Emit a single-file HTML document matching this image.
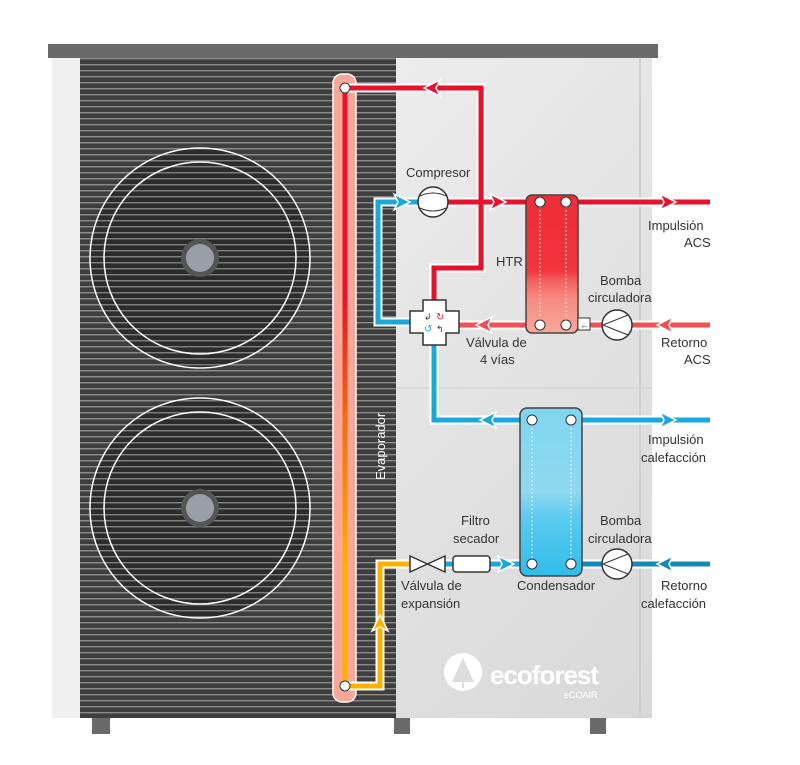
<!DOCTYPE html>
<html><head><meta charset="utf-8"><style>
html,body{margin:0;padding:0;background:#fff;}
svg{display:block;}
text{font-family:"Liberation Sans",sans-serif;font-size:13px;fill:#333;}
</style></head><body>
<svg width="800" height="765" viewBox="0 0 800 765" xmlns="http://www.w3.org/2000/svg">
<defs>
<pattern id="grill" width="6" height="6" patternUnits="userSpaceOnUse">
<rect width="6" height="6" fill="#3e3e3e"/><rect y="4" width="6" height="1.4" fill="#8a8a8a"/>
</pattern>
<pattern id="lines" width="6" height="6" patternUnits="userSpaceOnUse">
<rect y="4" width="6" height="1.4" fill="#8a8a8a" opacity="0.8"/>
</pattern>
<linearGradient id="panel" x1="0" y1="0" x2="1" y2="1">
<stop offset="0" stop-color="#f4f4f4"/><stop offset="1" stop-color="#d8d8d8"/></linearGradient>
<linearGradient id="evap" gradientUnits="userSpaceOnUse" x1="0" y1="88" x2="0" y2="686">
<stop offset="0" stop-color="#e8102a"/><stop offset="0.35" stop-color="#e8102a"/><stop offset="0.55" stop-color="#f56a10"/><stop offset="0.8" stop-color="#ffb000"/><stop offset="1" stop-color="#ffb000"/></linearGradient>
<linearGradient id="htr" x1="0" y1="0" x2="0" y2="1">
<stop offset="0" stop-color="#ee2d37"/><stop offset="0.55" stop-color="#f0353d"/><stop offset="0.62" stop-color="#f4605e"/><stop offset="0.75" stop-color="#f68a80"/><stop offset="1" stop-color="#f8a898"/></linearGradient>
<linearGradient id="cond" x1="0" y1="0" x2="0" y2="1">
<stop offset="0" stop-color="#7fd6f0"/><stop offset="0.5" stop-color="#8ed8f0"/><stop offset="0.65" stop-color="#5ccaf0"/><stop offset="1" stop-color="#2fbdea"/></linearGradient>
</defs>
<!-- body -->
<rect x="48" y="44" width="610" height="14" fill="#6a6a6a"/>
<rect x="52" y="58" width="600" height="660" fill="url(#panel)"/>
<rect x="52" y="58" width="28" height="660" fill="#f0f0f0"/>
<line x1="640" y1="58" x2="640" y2="718" stroke="#c8c8c8" stroke-width="1.5"/>
<line x1="396" y1="388" x2="652" y2="388" stroke="#d0d0d0" stroke-width="1"/>
<rect x="80" y="58" width="316" height="660" fill="url(#grill)"/>
<rect x="92" y="718" width="18" height="16" fill="#6a6a6a"/>
<rect x="394" y="718" width="16" height="16" fill="#6a6a6a"/>
<rect x="590" y="718" width="16" height="16" fill="#6a6a6a"/>
<!-- fans -->
<g>
<circle cx="200" cy="258" r="110" fill="#222" opacity="0.6"/>
<circle cx="200" cy="508" r="110" fill="#222" opacity="0.6"/>
<rect x="80" y="140" width="250" height="480" fill="url(#lines)"/>
<circle cx="200" cy="258" r="110" fill="none" stroke="#fff" stroke-width="1.5"/>
<circle cx="200" cy="258" r="96" fill="none" stroke="#fff" stroke-width="1.5"/>
<circle cx="200" cy="258" r="19" fill="#555"/><circle cx="200" cy="258" r="14" fill="#9a9ea6"/>
<circle cx="200" cy="508" r="110" fill="none" stroke="#fff" stroke-width="1.5"/>
<circle cx="200" cy="508" r="96" fill="none" stroke="#fff" stroke-width="1.5"/>
<circle cx="200" cy="508" r="19" fill="#555"/><circle cx="200" cy="508" r="14" fill="#9a9ea6"/>
</g>
<!-- evaporator -->
<rect x="333" y="74" width="23" height="628" rx="9" fill="#f8a898" stroke="#fff" stroke-width="1.5"/>
<rect x="342.5" y="88" width="5" height="598" fill="url(#evap)"/>
<text transform="translate(385,480) rotate(-90)" style="fill:#fff;font-size:13px">Evaporador</text>
<!-- pipes with white outline -->
<g fill="none" stroke-linejoin="miter">
<g stroke="#fff" stroke-width="9">
<polyline points="345,88 481,88 481,268 434,268 434,300"/>
<polyline points="410,322 378,322 378,202 418,202"/>
<polyline points="448,202 540,202"/>
<polyline points="566,202 710,202"/>
<polyline points="710,325 632,325"/><polyline points="602,325 566,325"/><polyline points="540,325 459,325"/>
<polyline points="434,345 434,420 532,420"/><polyline points="572,420 710,420"/>
<polyline points="345,686 380,686 380,564 410,564"/>
<polyline points="445,564 453,564"/><polyline points="490,564 532,564"/>
<polyline points="572,564 602,564"/><polyline points="632,564 710,564"/>
</g>
<g stroke-width="5">
<polyline stroke="#e8102a" points="345,88 481,88 481,268 434,268 434,300"/>
<polyline stroke="#1aa7dc" points="410,322 378,322 378,202 418,202"/>
<polyline stroke="#e8102a" points="448,202 540,202"/>
<polyline stroke="#e8102a" points="566,202 710,202"/>
<polyline stroke="#f05056" points="710,325 632,325"/><polyline stroke="#f05056" points="602,325 566,325"/><polyline stroke="#f05056" points="540,325 459,325"/>
<polyline stroke="#1aa7dc" points="434,345 434,420 532,420"/><polyline stroke="#1aa7dc" points="572,420 710,420"/>
<polyline stroke="#ffb000" points="345,686 380,686 380,564 410,564"/>
<polyline stroke="#1aa7dc" points="445,564 453,564"/><polyline stroke="#1aa7dc" points="490,564 532,564"/>
<polyline stroke="#1587b8" points="572,564 602,564"/><polyline stroke="#1587b8" points="632,564 710,564"/>
</g>
</g>
<!-- arrows -->
<g stroke="#fff" stroke-width="1.5">
<polygon points="424,88 440,80 436,88 440,96" fill="#e8102a"/>
<polygon points="410,202 394,194 398,202 394,210" fill="#1aa7dc"/>
<polygon points="506,202 490,194 494,202 490,210" fill="#e8102a"/>
<polygon points="676,202 660,194 664,202 660,210" fill="#e8102a"/>
<polygon points="476,325 492,317 488,325 492,333" fill="#f05056"/>
<polygon points="657,325 673,317 669,325 673,333" fill="#f05056"/>
<polygon points="480,420 496,412 492,420 496,428" fill="#1aa7dc"/>
<polygon points="676,420 660,412 664,420 660,428" fill="#1aa7dc"/>
<polygon points="514,564 498,556 502,564 498,572" fill="#1aa7dc"/>
<polygon points="657,564 673,556 669,564 673,572" fill="#1587b8"/>
<polygon points="380,615 372,631 380,627 388,631" fill="#ffb000"/>
</g>
<!-- compressor -->
<circle cx="433" cy="202" r="15" fill="#fff" stroke="#333" stroke-width="1.5"/>
<path d="M420,196 Q433,190 446,196 M420,208 Q433,214 446,208" fill="none" stroke="#333" stroke-width="1"/>
<!-- 4-way valve -->
<path d="M423,300 H446 V311 H459 V333 H446 V345 H423 V333 H410 V311 H423 Z" fill="#fff" stroke="#333" stroke-width="1.5"/>
<text x="424" y="320" style="font-size:9px;fill:#333">↲</text><text x="436" y="320" style="font-size:10px;fill:#e8102a">↻</text>
<text x="424" y="332" style="font-size:10px;fill:#1aa7dc">↺</text><text x="436" y="332" style="font-size:9px;fill:#333">↰</text>
<!-- HTR -->
<rect x="526" y="195" width="52" height="138" rx="6" fill="url(#htr)" stroke="#444" stroke-width="1.5"/>
<line x1="540" y1="202" x2="540" y2="325" stroke="#fff" stroke-dasharray="2 2" stroke-width="0.8"/>
<line x1="566" y1="202" x2="566" y2="325" stroke="#fff" stroke-dasharray="2 2" stroke-width="0.8"/>
<circle cx="540" cy="202" r="5" fill="#fff" stroke="#333"/><circle cx="566" cy="202" r="5" fill="#fff" stroke="#333"/>
<circle cx="540" cy="325" r="5" fill="#fff" stroke="#333"/><circle cx="566" cy="325" r="5" fill="#fff" stroke="#333"/>
<rect x="578" y="318" width="12" height="12" fill="#fff" stroke="#333"/><text x="580" y="328" style="font-size:9px">←</text>
<circle cx="617" cy="325" r="15" fill="#fff" stroke="#333" stroke-width="1.5"/>
<path d="M603,325 L628,315 M603,325 L628,335" stroke="#333" stroke-width="1"/>
<!-- condenser -->
<rect x="520" y="408" width="62" height="168" rx="7" fill="url(#cond)" stroke="#444" stroke-width="1.5"/>
<line x1="532" y1="420" x2="532" y2="564" stroke="#fff" stroke-dasharray="2 2" stroke-width="0.8"/>
<line x1="571" y1="420" x2="571" y2="564" stroke="#fff" stroke-dasharray="2 2" stroke-width="0.8"/>
<circle cx="532" cy="420" r="5" fill="#fff" stroke="#333"/><circle cx="571" cy="420" r="5" fill="#fff" stroke="#333"/>
<circle cx="532" cy="564" r="5" fill="#fff" stroke="#333"/><circle cx="571" cy="564" r="5" fill="#fff" stroke="#333"/>
<circle cx="617" cy="564" r="15" fill="#fff" stroke="#333" stroke-width="1.5"/>
<path d="M603,564 L628,554 M603,564 L628,574" stroke="#333" stroke-width="1"/>
<!-- expansion valve + filter -->
<path d="M410,556 L445,572 L445,556 L410,572 Z" fill="#fff" stroke="#333" stroke-width="1.5"/>
<rect x="453" y="556" width="37" height="16" rx="3" fill="#fff" stroke="#333" stroke-width="1.5"/>
<!-- nodes on evaporator -->
<circle cx="345" cy="88" r="5" fill="#fff" stroke="#333"/>
<circle cx="345" cy="686" r="5" fill="#fff" stroke="#333"/>
<!-- labels -->
<text x="406" y="177">Compresor</text>
<text x="496" y="266">HTR</text>
<text x="600" y="285">Bomba</text><text x="588" y="302">circuladora</text>
<text x="648" y="230">Impulsión</text><text x="684" y="247">ACS</text>
<text x="466" y="347">Válvula de</text><text x="480" y="364">4 vías</text>
<text x="661" y="347">Retorno</text><text x="684" y="364">ACS</text>
<text x="648" y="444">Impulsión</text><text x="641" y="462">calefacción</text>
<text x="461" y="525">Filtro</text><text x="453" y="543">secador</text>
<text x="600" y="525">Bomba</text><text x="588" y="543">circuladora</text>
<text x="401" y="590">Válvula de</text><text x="401" y="608">expansión</text>
<text x="517" y="590">Condensador</text>
<text x="661" y="590">Retorno</text><text x="641" y="608">calefacción</text>
<!-- logo -->
<circle cx="463" cy="672" r="19" fill="#fff"/>
<polygon points="463,658 452,682 474,682" fill="#ddd"/>
<rect x="462" y="676" width="2" height="12" fill="#ddd"/>
<text x="490" y="684" style="fill:#fff;font-size:26px;font-weight:bold;letter-spacing:-1px">ecoforest</text>
<text x="564" y="698" style="fill:#fff;font-size:9px">eCOAIR</text>
</svg>
</body></html>
